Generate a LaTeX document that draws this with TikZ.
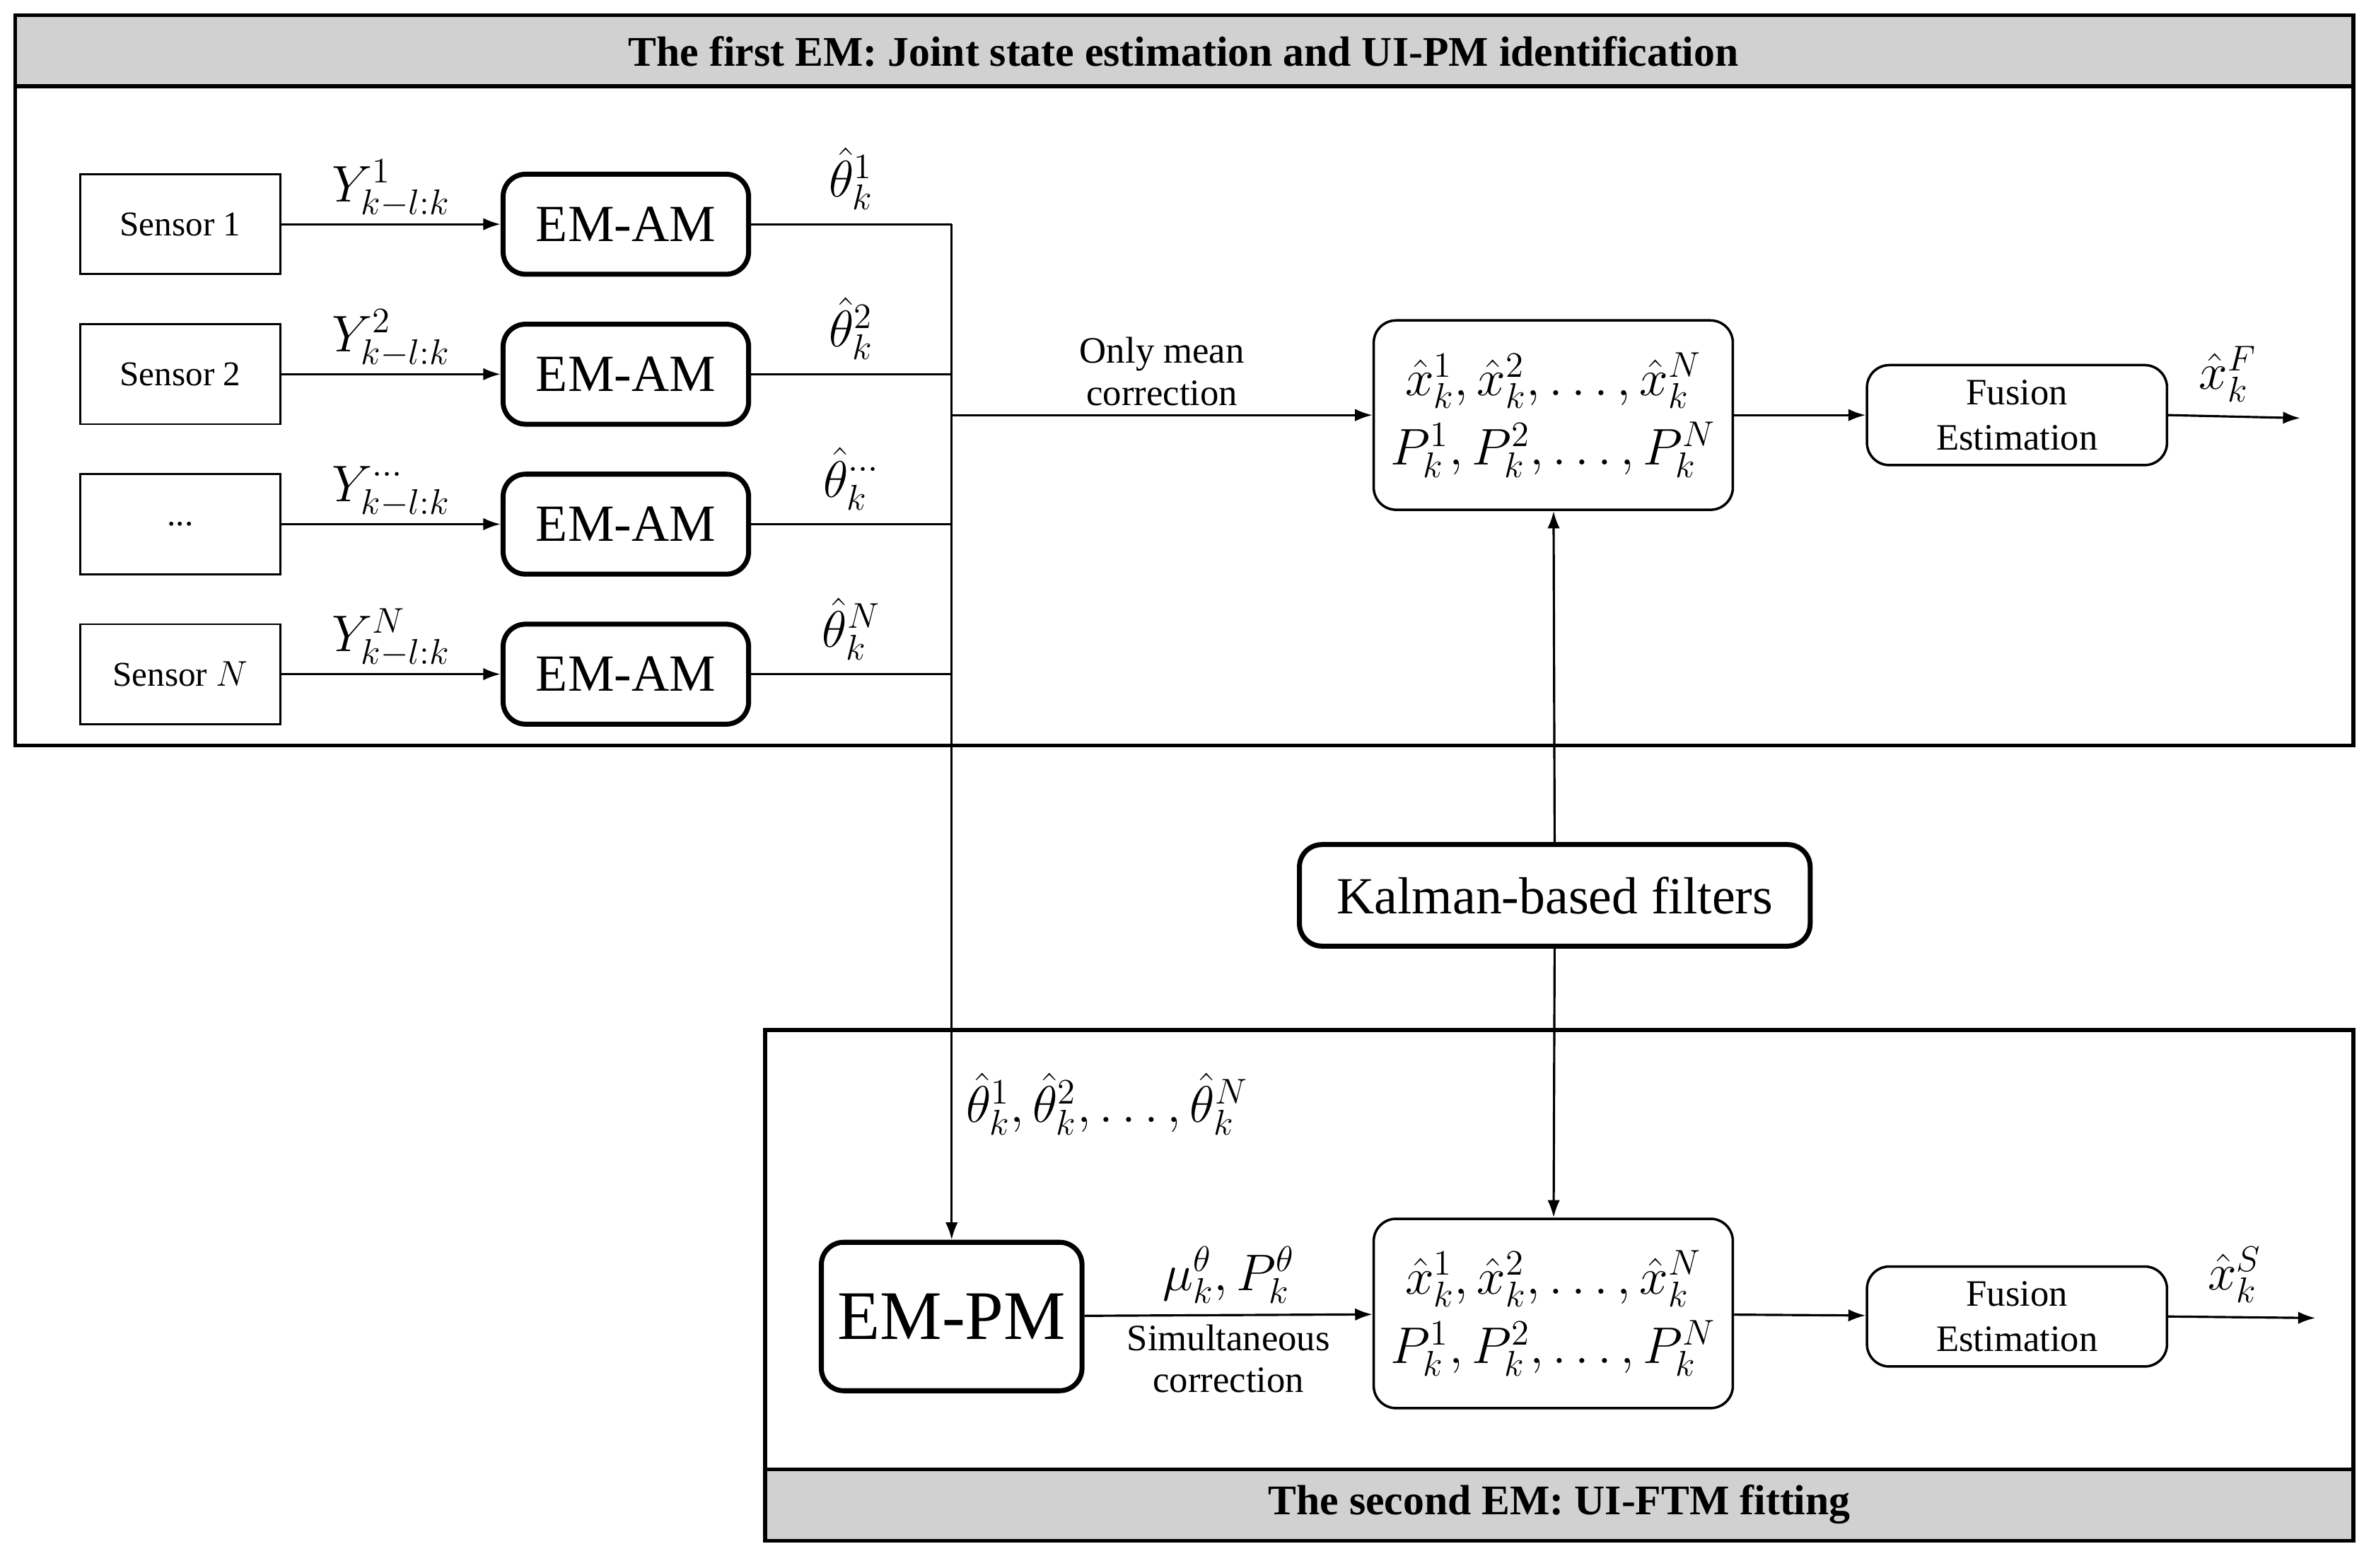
\documentclass[tikz,border=0pt]{standalone}
\usepackage{fontspec}
\setmainfont{Liberation Serif}
\usetikzlibrary{positioning,arrows.meta}
\tikzset{
  sensor/.style={draw,line width=0.8pt,minimum width=132*0.2143mm,minimum height=66*0.2143mm,font=\fontsize{14}{15}\selectfont},
  emam/.style={draw,rounded corners=9pt,line width=2pt,minimum width=162*0.2143mm,minimum height=66*0.2143mm,font=\fontsize{21}{23}\selectfont},
  state/.style={draw,rounded corners=9pt,line width=1pt,minimum width=237*0.2143mm,minimum height=125*0.2143mm,font=\fontsize{22}{28}\selectfont,align=center,inner sep=1pt},
  fusion/.style={draw,rounded corners=9pt,line width=1pt,minimum width=198*0.2143mm,minimum height=66*0.2143mm,font=\fontsize{15}{18}\selectfont,align=center},
  lab/.style={font=\fontsize{22}{24}\selectfont},
  arr/.style={-{Latex[length=7pt,width=5pt]},line width=0.9pt},
  ln/.style={line width=0.9pt},
  frame/.style={draw,line width=1.6pt},
  titlebar/.style={draw,line width=1.6pt,fill=black!18}
}
\begin{document}
\begin{tikzpicture}[x=0.2143mm,y=-0.2143mm]
\useasboundingbox (0,0) rectangle (1560,1035);
% first EM
\draw[titlebar] (10,10) rectangle (1553,57);
\node[font=\bfseries\fontsize{17}{19}\selectfont] (t1) at (781,34) {The first EM: Joint state estimation and UI-PM identification};
\draw[frame] (10,57) rectangle (1553,492);
% second EM
\draw[frame] (505,680) rectangle (1553,970);
\draw[titlebar] (505,970) rectangle (1553,1017);
\node[font=\bfseries\fontsize{17}{19}\selectfont] (t2) at (1029,993) {The second EM: UI-FTM fitting};

% sensors and EM-AM
\foreach \i/\s/\y/\lbl in {1/{Sensor 1}/148/1,2/{Sensor 2}/247/2,3/{...}/346/{\cdots},4/{Sensor $N$}/445/N}{
  \node[sensor] (s\i) at (119,\y) {\s};
  \node[emam] (am\i) at (413,\y) {EM-AM};
  \coordinate (j\i) at (628,\y);
  \draw[arr] (s\i) -- (am\i) node[lab,midway,above=-1pt] {$Y^{\lbl}_{k-l:k}$};
  \draw[ln] (am\i) -- (j\i) node[lab,pos=0.5,above=2pt] {$\hat{\theta}^{\lbl}_{k}$};
}
\coordinate (jm) at (628,274);

% top row
\node[state] (st1) at (1025,274) {$\hat{x}^1_k,\hat{x}^2_k,\ldots,\hat{x}^N_k$\\$P^1_k,P^2_k,\ldots,P^N_k$};
\node[fusion] (f1) at (1331,274) {Fusion\\Estimation};
\coordinate (o1) at (1518,276);
\draw[arr] (jm) -- (st1) node[midway,above,align=center,font=\fontsize{15}{17}\selectfont] {Only mean\\correction};
\draw[arr] (st1) -- (f1);
\draw[arr] (f1.east) -- (o1) node[lab,pos=0.45,above=2pt] {$\hat{x}^F_k$};

% Kalman
\node[emam,minimum width=337*0.2143mm,minimum height=67*0.2143mm,font=\fontsize{21}{23}\selectfont] (kf) at (1026,591) {Kalman-based filters};

% bottom row
\node[emam,minimum width=172*0.2143mm,minimum height=98*0.2143mm,font=\fontsize{28}{30}\selectfont] (pm) at (628,869) {EM-PM};
\node[state] (st2) at (1025,867) {$\hat{x}^1_k,\hat{x}^2_k,\ldots,\hat{x}^N_k$\\$P^1_k,P^2_k,\ldots,P^N_k$};
\node[fusion] (f2) at (1331,869) {Fusion\\Estimation};
\coordinate (o2) at (1528,870);
\draw[ln] (j1) -- (j4);
\draw[arr] (j4) -- (pm) node[lab,pos=0.76,right=2pt] {$\hat{\theta}^1_k,\hat{\theta}^2_k,\ldots,\hat{\theta}^N_k$};
\draw[arr] (pm) -- (st2) node[lab,midway,above=1pt] {$\mu^{\theta}_k,P^{\theta}_k$}
  node[midway,below,align=center,font=\fontsize{15}{17}\selectfont] {Simultaneous\\correction};
\draw[arr] (st2) -- (f2);
\draw[arr] (f2.east) -- (o2) node[lab,pos=0.45,above=2pt] {$\hat{x}^S_k$};
\draw[arr] (kf) -- (st1);
\draw[arr] (kf) -- (st2);
\end{tikzpicture}
\end{document}
